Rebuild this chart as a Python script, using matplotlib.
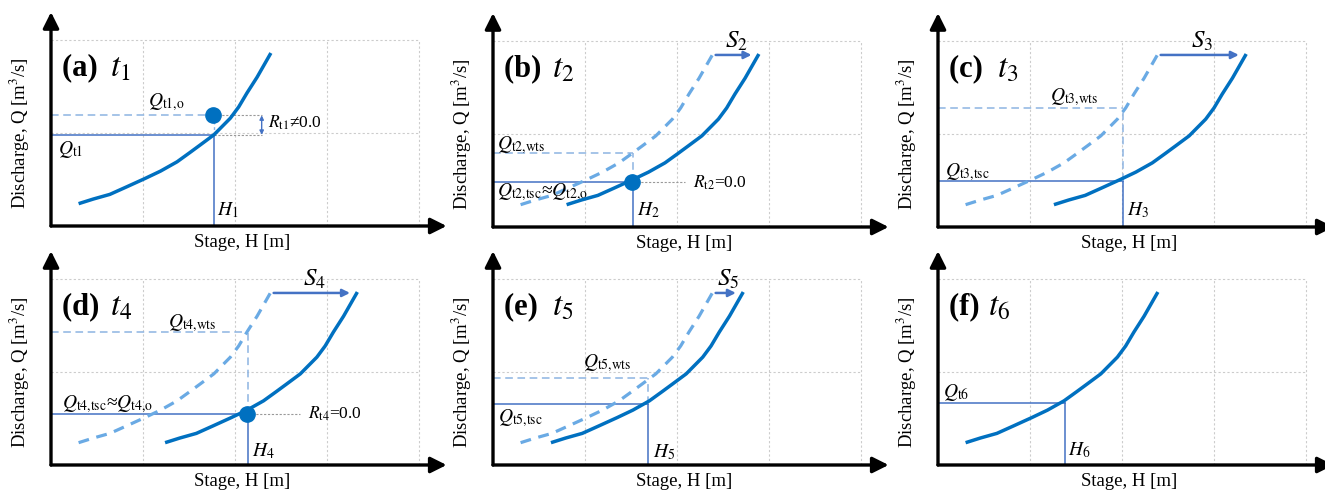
import matplotlib
matplotlib.use("Agg")
import matplotlib.pyplot as plt

plt.rcParams['font.family'] = ['Liberation Serif', 'DejaVu Serif']
plt.rcParams['mathtext.fontset'] = 'stix'

# base rating curve, stage H vs discharge Q
base_H = [0.30, 0.46, 0.64, 0.82, 1.02, 1.19, 1.37, 1.51, 1.62, 1.77,
          1.87, 1.95, 2.04, 2.13, 2.24, 2.39]
base_Q = [0.24, 0.29, 0.34, 0.42, 0.51, 0.59, 0.69, 0.79, 0.87, 0.98,
          1.08, 1.16, 1.28, 1.43, 1.60, 1.86]

panels = ['a', 'b', 'c', 'd', 'e', 'f']
shift = [0.0, 0.5, 0.96, 0.94, 0.33, 0.0]          # S_t
show_wts = [False, True, True, True, True, False]
H_t = [1.77, 1.52, 2.01, 2.14, 1.68, 1.38]
Q_tsc = [0.98, 0.48, 0.50, 0.55, 0.66, 0.67]
Q_wts = [None, 0.80, 1.28, 1.43, 0.94, None]
Q_obs = [1.19, 0.48, None, 0.55, None, None]

# label texts
tsc_label = [r'$Q_{\mathrm{t1}}$', r'$Q_{\mathrm{t2{,}tsc}}$≈$Q_{\mathrm{t2{,}o}}$', r'$Q_{\mathrm{t3{,}tsc}}$',
             r'$Q_{\mathrm{t4{,}tsc}}$≈$Q_{\mathrm{t4{,}o}}$', r'$Q_{\mathrm{t5{,}tsc}}$', r'$Q_{\mathrm{t6}}$']
tsc_pos = [(0.08, 0.82), (0.04, 0.38), (0.08, 0.59), (0.12, 0.66), (0.05, 0.50), (0.05, 0.78)]
wts_label = [r'$Q_{\mathrm{t1{,}o}}$', r'$Q_{\mathrm{t2{,}wts}}$', r'$Q_{\mathrm{t3{,}wts}}$',
             r'$Q_{\mathrm{t4{,}wts}}$', r'$Q_{\mathrm{t5{,}wts}}$', None]
wts_pos = [(1.05, 1.33), (0.04, 0.88), (1.22, 1.40), (1.27, 1.53), (0.98, 1.10), None]
H_label = [r'$H_1$', r'$H_2$', r'$H_3$', r'$H_4$', r'$H_5$', r'$H_6$']
H_pos = [(1.80, 0.17), (1.56, 0.18), (2.05, 0.18), (2.18, 0.15), (1.74, 0.14), (1.41, 0.16)]
R_label = [r'$R_{\mathrm{t1}}$≠0.0', r'$R_{\mathrm{t2}}$=0.0', None, r'$R_{\mathrm{t4}}$=0.0', None, None]
R_end = [2.29, 2.09, None, 2.71, None, None]

# panel origins in pixels (x from left, y from top)
origins = [(51, 226), (493, 227), (938, 227), (51, 465), (493, 465), (938, 465)]
W, Hpx = 1325, 492
ux, uy = 92, 93
XMAX, YMAX = 4.3, 2.3

DARK = '#0070C0'
LIGHT = '#6AAAE4'
GUIDE = '#4472C4'
GUIDE_L = '#8DB4E2'
GRID = '#cccccc'

fig = plt.figure(figsize=(W / 100, Hpx / 100), dpi=100)

for i, p in enumerate(panels):
    x0, y0 = origins[i]
    ax = fig.add_axes([x0 / W, (Hpx - y0) / Hpx, XMAX * ux / W, YMAX * uy / Hpx])
    ax.set_xlim(0, XMAX)
    ax.set_ylim(0, YMAX)
    ax.axis('off')

    # grid box
    for gx in [1, 2, 3, 4]:
        ax.plot([gx, gx], [0, 2], color=GRID, lw=0.8, ls=(0, (2, 2)), zorder=0)
    for gy in [1, 2]:
        ax.plot([0, 4], [gy, gy], color=GRID, lw=0.8, ls=(0, (2, 2)), zorder=0)

    # axes arrows
    ax.annotate('', xy=(XMAX, 0), xytext=(0, 0), annotation_clip=False,
                arrowprops=dict(arrowstyle='-|>', lw=2.4, color='k', mutation_scale=24,
                                shrinkA=0, shrinkB=0))
    ax.annotate('', xy=(0, YMAX), xytext=(0, 0), annotation_clip=False,
                arrowprops=dict(arrowstyle='-|>', lw=2.4, color='k', mutation_scale=24,
                                shrinkA=0, shrinkB=0))
    ax.text(-0.34, 1.0, 'Discharge, Q [m$^3$/s]', rotation=90, ha='center', va='center',
            fontsize=13.5)
    ax.text(2.08, -0.18, 'Stage, H [m]', ha='center', va='center', fontsize=13.5)

    ax.text(0.12, 1.70, '(%s) ' % p, fontsize=22, fontweight='bold', ha='left', va='center')
    ax.text(0.64 if p != 'f' else 0.54, 1.70, r'$t_{%d}$' % (i + 1), fontsize=24,
            ha='left', va='center')

    # curves
    sx = [h + shift[i] for h in base_H]
    if show_wts[i]:
        ax.plot(base_H, base_Q, color=LIGHT, lw=2.3, ls=(0, (3.4, 2.4)), zorder=3,
                solid_joinstyle='round')
    ax.plot(sx, base_Q, color=DARK, lw=2.5, zorder=4, solid_joinstyle='round',
            solid_capstyle='butt')

    # guide lines at H_t
    h, q = H_t[i], Q_tsc[i]
    ax.plot([0, h], [q, q], color=GUIDE, lw=1.1, zorder=2)
    ax.plot([h, h], [0, q], color=GUIDE, lw=1.1, zorder=2)
    ax.text(*tsc_pos[i], tsc_label[i], fontsize=14, ha='left', va='center')
    ax.text(*H_pos[i], H_label[i], fontsize=14, ha='left', va='center')

    if Q_wts[i] is not None:
        qw = Q_wts[i]
        ax.plot([0, h], [qw, qw], color=GUIDE_L, lw=1.1, ls=(0, (5, 3)), zorder=2)
        ax.plot([h, h], [q, qw], color=GUIDE_L, lw=1.1, ls=(0, (5, 3)), zorder=2)
    if wts_label[i] is not None:
        ax.text(*wts_pos[i], wts_label[i], fontsize=14, ha='left', va='center')

    # observation dot and residual
    if Q_obs[i] is not None:
        qo = Q_obs[i]
        ax.plot([h - 0.01], [qo], 'o', color=DARK, ms=11, zorder=5)
        ax.plot([h, R_end[i]], [qo, qo], color='#999999', lw=0.8, ls=(0, (2, 1.5)), zorder=1)
        if qo != q:
            ax.plot([0, h], [qo, qo], color=GUIDE_L, lw=1.1, ls=(0, (5, 3)), zorder=2)
            ax.plot([h, h], [q, qo], color=GUIDE_L, lw=1.0, ls=(0, (2, 2)), zorder=1)
            ax.plot([h, R_end[i]], [q, q], color='#999999', lw=0.8, ls=(0, (2, 1.5)), zorder=1)
            ax.annotate('', xy=(R_end[i], qo), xytext=(R_end[i], q),
                        arrowprops=dict(arrowstyle='<|-|>', lw=1.0, color=GUIDE,
                                        mutation_scale=6, shrinkA=0, shrinkB=0))
            ax.text(R_end[i] + 0.07, (q + qo) / 2 + 0.03, R_label[i], fontsize=12.5,
                    ha='left', va='center')
        else:
            ax.text(R_end[i] + 0.08, qo, R_label[i], fontsize=12.5, ha='left', va='center')

    # shift arrow S_t
    if shift[i] > 0:
        xs = base_H[-1] + 0.03
        xe = base_H[-1] + shift[i] - 0.08
        ya = base_Q[-1] - 0.01
        ax.annotate('', xy=(xe, ya), xytext=(xs, ya),
                    arrowprops=dict(arrowstyle='-|>', lw=1.8, color=GUIDE,
                                    mutation_scale=11, shrinkA=0, shrinkB=0))
        ax.text((xs + xe) / 2 + 0.03, 2.0, r'$S_{%d}$' % (i + 1), fontsize=18,
                ha='center', va='center')

fig.savefig('out.png', dpi=100)
